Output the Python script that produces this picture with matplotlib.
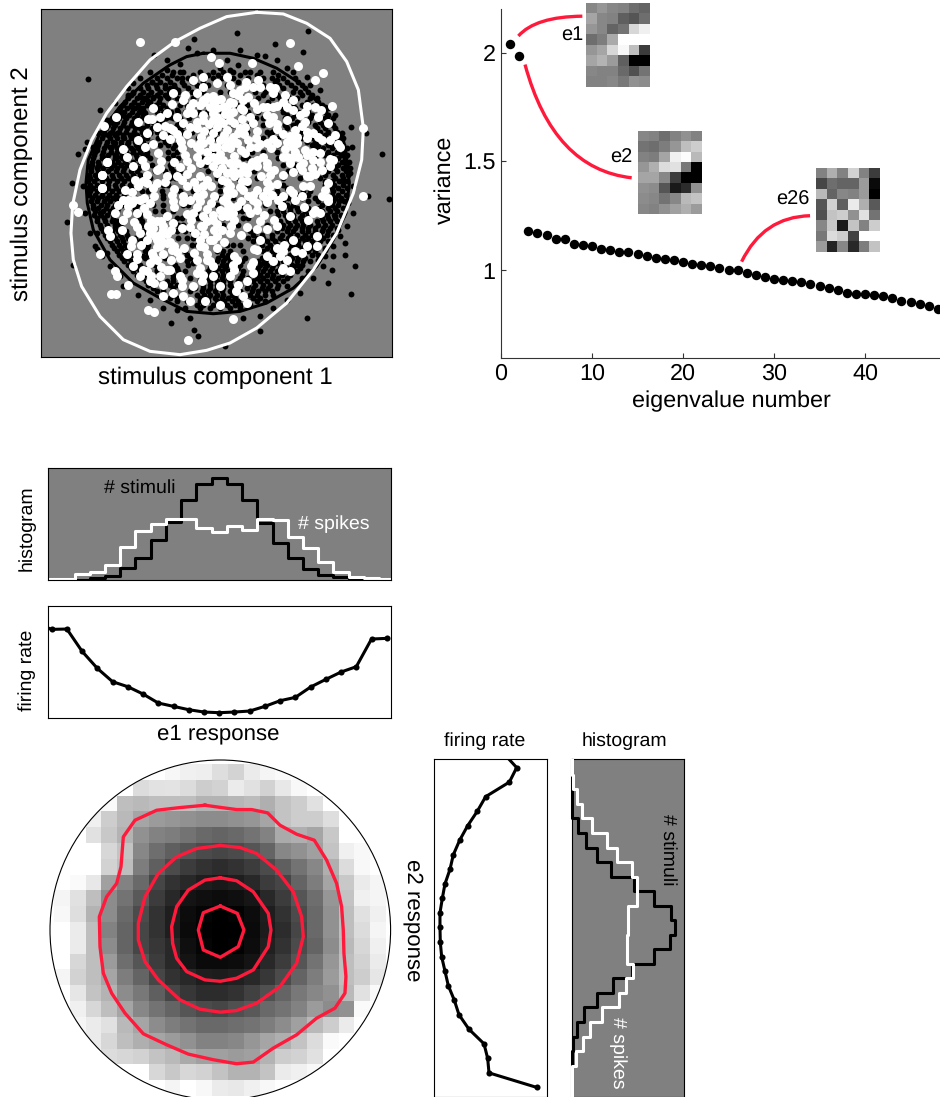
import numpy as np
import matplotlib
matplotlib.use('Agg')
import matplotlib.pyplot as plt
from matplotlib.patches import Circle, PathPatch
from matplotlib.path import Path

plt.rcParams['font.family'] = ['Liberation Sans', 'DejaVu Sans']
plt.rcParams['text.hinting'] = 'no_hinting'

W, H = 940, 1097
GRAY = '#808080'
RED = '#ff1a3c'

# scatter panel, values (arbitrary stimulus units)
black_stim = [
(263,237),(712,100),(924,92),(825,132),(910,157),(795,168),(582,117),(565,145),(462,165),(385,285),(215,550),(235,463),
(202,667),(290,747),(220,797),(1145,463),(1168,597),(1052,380),(1098,400),(1103,590),(1065,800),(1035,765),(985,850),
(1053,882),(995,810),(920,955),(780,995),(730,955),(675,1040),(595,1008),(582,990),(570,955),(513,970),(530,930),(1030,545),
(1000,770),(975,770),(1025,400),(1030,415),(300,330),(330,440),(262,425),(255,448),(290,450),(540,192),(500,210),(540,215),
(660,205),(682,180),(715,195),(690,210),(750,215),(830,240),(920,230),(455,245),(545,235),(510,265),(480,275),(385,290),
(400,280),(440,300),(395,320),(420,325),(360,335),(340,370),(375,350),(400,370),(380,385),(350,400),(370,410),(395,405),
(420,385),(440,370),(435,340),(460,290),(500,290),(535,270),(520,310),(490,340),(470,360),(510,350),(530,330),(550,370),
(345,430),(360,440),(385,430),(410,420),(430,410),(450,400),(470,390),(400,450),(420,445),(440,465),(350,470),(375,480),
(950,440),(1010,430),(1040,490),(1055,440),(1045,610),(1025,650),(1015,690),(1005,650),(1020,710),(975,750),(925,815),
(905,835),(860,860),(955,780),(360,830),(320,760),(290,700),(300,640),(305,590),(295,500),(310,470),(330,400),(400,250),
(420,290),(590,160),(470,810),(450,780),(430,770),(640,790),(600,840),(580,790),(830,790),(790,790),(760,805),(710,785),
(268,500),(250,560),(255,640),(270,700),(285,740),(305,770),(330,800),(370,860),(415,885),(450,900),(490,925),(1050,520),
(1060,560),(1060,640),(1040,680),(1035,730),(1000,740),(970,800),(940,835),(900,880),(860,900),(820,925),(780,950),(960,270),
(930,255),(975,320),(880,215),(860,205),(830,180),(770,165),(720,150),(640,150),(500,180),(450,215),(420,235),(385,265),
(345,310),(320,360),(295,400),(280,440),
]

# denser interior of the black cloud, one list of horizontal positions per row
black_row_y = [215,225,235,245,255,265,275,285,295,305,315,325,335,345,355,365,375,385,395,405,415,425,435,445,455,465,475,485,
               495,505,515,525,535,545,555,565,575,585,595,605,615,625,635,645,655,665,675,685,695,705,715,725,735,745,755,765,
               775,785,795,805,815,825,835,845,855,865,875,885,895,905,915,925]
black_row_x = [
[520,548,600,640,668,700,735,780,820],
[485,515,580,625,655,720,770,835],
[470,500,530,565,610,640,665,700,745,790,815,850,885],
[455,480,510,545,575,610,715,775,825,860,895],
[440,468,495,522,552,590,625,680,760,790,838,872,905],
[420,445,470,495,525,565,775,810,850,885,915],
[400,428,452,480,508,535,575,610,660,690,765,795,820,878,900,925],
[392,420,445,470,495,520,790,830,860,905,935],
[385,410,432,458,480,505,530,580,665,775,815,840,870,890,930,950],
[375,402,425,450,478,520,805,850,880,920,955],
[370,392,415,440,468,490,540,560,590,630,660,710,740,795,880,905,940,965],
[360,382,405,430,455,480,500,845,885,915,950,985],
[352,372,395,418,432,470,492,512,535,556,598,622,655,700,725,745,775,850,878,895,925,975],
[345,368,388,410,430,485,508,860,885,935,985,1005],
[335,358,378,402,425,476,498,520,540,568,610,650,680,742,768,790,855,875,930,975,1000],
[330,352,372,395,418,460,485,540,865,890,925,960,990],
[325,345,368,392,412,440,465,530,552,570,635,665,700,745,790,855,880,900,945,968,1000],
[318,338,360,382,405,430,455,540,860,890,950,975,1005],
[312,335,358,378,402,425,450,470,520,545,575,630,650,740,800,815,905,935,960,985,1012],
[308,325,345,368,390,412,438,505,810,895,950,975,1000,1020],
[305,330,350,372,392,415,440,475,490,595,645,660,790,835,905,940,985,1010],
[298,320,340,362,385,405,430,455,495,920,945,975,995,1025],
[295,318,342,362,382,408,428,445,480,505,525,580,655,745,835,935,955,985,1005,1030],
[290,312,332,352,372,392,415,435,520,945,970,995,1018,1040],
[285,310,332,352,378,398,420,442,505,530,640,755,790,830,945,985,1012,1032],
[282,305,325,345,365,388,408,430,520,950,975,1000,1022,1042],
[280,305,345,365,388,412,450,505,535,605,625,730,745,835,850,945,1015,1035],
[275,295,318,335,355,375,400,420,515,952,1005,1025,1048],
[275,298,320,342,362,382,405,455,510,600,615,725,770,850,885,990,1015,1038],
[272,290,310,332,352,372,395,418,512,978,1005,1028,1050],
[272,295,325,348,368,392,412,465,495,520,540,625,675,762,865,900,985,1012,1038],
[268,285,310,335,358,378,400,420,515,975,998,1025,1045],
[270,292,318,340,362,385,405,450,510,525,650,715,770,850,900,960,1005,1030],
[265,282,305,328,350,372,395,418,975,995,1018,1040],
[270,290,325,345,365,390,440,490,505,610,660,745,850,975,1002,1028],
[265,280,302,325,348,368,392,408,860,995,1015,1040],
[270,292,315,335,358,375,425,445,485,540,580,660,730,830,910,930,1000,1025],
[268,285,305,328,348,372,400,490,840,895,925,995,1015,1038],
[275,295,320,340,355,490,565,660,700,745,865,905,945,1005,1022],
[272,290,312,330,352,415,445,850,880,925,955,1000,1018,1032],
[280,302,322,345,365,410,460,490,550,565,650,700,720,795,835,860,880,965,995,1015],
[278,295,318,340,355,405,850,870,890,925,958,985,1005,1028],
[285,308,330,350,405,465,490,520,590,660,710,725,810,830,850,870,895,915,965,990,1010],
[282,302,322,340,420,835,855,880,905,925,960,980,1002,1022],
[290,312,338,420,500,530,545,595,670,730,745,860,880,900,920,965,985,1005],
[292,315,335,350,425,840,865,885,905,925,950,970,990,1012],
[300,322,345,360,430,535,550,670,715,800,850,870,890,910,930,955,975,995],
[302,325,345,365,845,865,885,905,925,945,970,990,1010],
[310,335,355,378,430,530,555,575,660,750,770,830,860,880,905,925,945,965,985],
[315,340,360,380,425,760,785,815,845,870,890,915,935,960,980,1000],
[322,345,365,385,405,430,535,560,580,745,770,790,815,840,865,885,905,925,945,970],
[330,350,370,395,420,760,780,800,825,850,870,895,915,935,960,985],
[335,358,375,445,575,590,680,700,720,785,810,830,875,895,915,935,955],
[342,362,382,440,800,820,840,865,885,905,930,950,975],
[350,368,435,515,555,650,670,690,730,790,815,835,905,925,945],
[358,378,395,445,560,665,685,705,800,825,845,870,890,910,935,955],
[365,385,435,495,570,655,675,690,735,785,800,835,855,875,895,915],
[372,392,412,450,560,650,670,690,725,775,795,820,850,870,890,910,930],
[385,405,420,465,525,565,665,680,720,780,800,820,875,890,905],
[392,412,432,530,630,655,675,695,715,775,795,815,840,860,880,900],
[400,420,470,535,555,625,645,665,685,730,770,790,810,830,890],
[412,432,478,520,630,650,670,690,725,760,780,800,820,845,870],
[425,475,520,570,625,645,665,685,720,745,770,790,815,835,860],
[438,500,520,610,630,650,670,690,715,735,760,780,800,825,850],
[445,510,530,580,610,630,650,670,690,720,745,765,790,810,835],
[460,490,520,585,610,630,650,670,695,715,740,760,785,805,830],
[470,490,515,570,605,625,645,665,690,720,755,775,795,815],
[490,520,590,612,630,650,670,695,725,750,770,795,820],
[510,530,600,625,645,665,685,705,760,780],
[530,560,600,625,650,672,695,715,745,770,795],
[590,610,640,680,705,720,750],
[555,600,630,660,690,720],
]

white_stim = [
(420,127),(525,125),(870,130),(895,198),(968,220),(945,240),(995,317),(1090,385),(1088,590),(235,638),(220,615),(312,378),
(348,352),(320,485),(305,525),(305,565),(332,882),(348,884),(445,930),(462,937),(565,1020),(698,958),(490,890),(345,815),
(350,828),(300,762),(330,710),(325,690),(370,660),(385,855),(550,888),(570,905),(615,903),(660,915),(708,875),(730,890),
(742,910),(845,810),(870,815),(632,172),(658,188),(755,190),(580,240),(650,250),(738,245),(775,240),(780,262),(810,262),
(825,265),(720,270),(735,262),(555,285),(590,280),(620,292),(640,288),(700,278),(715,285),(745,290),(855,285),(550,300),
(612,305),(640,302),(662,298),(690,305),(728,300),(762,310),(790,322),(850,305),(920,318),(962,330),(460,325),(515,312),
(570,320),(600,315),(652,325),(682,318),(722,325),(770,328),(800,320),(832,318),(860,322),(915,335),(945,322),(445,358),
(580,340),(610,345),(640,338),(675,342),(700,335),(802,345),(820,352),(900,345),(955,350),(415,366),(455,358),(550,368),
(590,365),(628,372),(660,362),(702,370),(725,358),(808,368),(832,372),(915,365),(905,378),(495,378),(510,385),(592,385),
(612,392),(652,380),(680,390),(720,385),(770,392),(830,388),(920,395),(985,368),(490,405),(530,402),(560,402),(602,410),
(672,405),(700,412),(732,402),(768,415),(850,402),(870,408),(890,412),(1005,405),(510,418),(542,425),(572,430),(610,428),
(680,422),(710,428),(745,420),(780,432),(820,418),(860,425),(890,430),(922,415),(965,420),(1015,432),(460,432),(545,445),
(600,450),(640,440),(690,445),(722,450),(770,440),(812,445),(855,448),(885,455),(915,450),(1020,440),(370,448),(475,458),
(555,465),(590,470),(620,455),(660,462),(702,468),(735,460),(862,470),(895,472),(920,465),(960,460),(322,485),(482,482),
(522,486),(562,482),(652,480),(690,490),(772,480),(802,490),(870,488),(910,490),(960,485),(990,478),(435,498),(480,505),
(540,503),(572,505),(640,498),(665,505),(700,512),(750,500),(800,502),(822,510),(905,510),(935,505),(965,510),(305,526),
(440,525),(560,522),(600,530),(650,520),(702,528),(740,520),(782,530),(810,525),(850,525),(880,518),(920,530),(945,522),
(430,545),(470,550),(495,546),(545,542),(582,548),(622,540),(682,548),(742,545),(800,548),(832,552),(870,572),(985,550),
(305,565),(415,560),(460,565),(522,568),(560,560),(592,566),(632,560),(682,570),(720,562),(770,570),(800,572),(880,580),
(910,560),(975,570),(395,578),(515,585),(610,582),(642,590),(680,590),(760,585),(790,590),(850,590),(965,590),(370,600),
(402,602),(432,596),(462,590),(520,605),(550,606),(600,605),(632,610),(680,610),(722,605),(772,610),(800,608),(835,602),
(985,595),(385,620),(432,625),(522,622),(590,622),(620,628),(680,630),(742,625),(770,630),(912,622),(945,630),(380,640),
(440,642),(562,642),(610,650),(640,645),(682,650),(750,640),(792,645),(940,640),(368,660),(402,668),(452,660),(482,665),
(572,660),(622,665),(652,672),(702,660),(780,665),(822,660),(410,682),(460,685),(490,678),(512,690),(570,682),(602,680),
(642,690),(692,680),(742,682),(772,688),(832,680),(450,700),(480,705),(500,702),(612,702),(652,708),(690,700),(722,705),
(800,688),(482,722),(510,728),(600,722),(640,722),(672,728),(952,708),(392,738),(422,735),(472,742),(522,738),(552,745),
(612,742),(652,745),(762,748),(852,735),(922,738),(950,738),(382,762),(412,762),(456,760),(490,762),(530,758),(582,760),
(622,762),(702,768),(772,752),(850,755),(885,755),(410,778),(470,782),(512,782),(540,775),(592,782),(630,785),(712,782),
(760,788),(820,785),(442,815),(482,802),(502,810),(600,805),(640,798),(702,812),(752,798),(850,805),(452,830),(510,812),
(590,820),(610,825),(700,795),(450,845),(490,855),(545,840),(605,845),(462,850),(545,860),
(610,300),(630,320),(650,300),(670,320),(690,340),(650,350),(670,370),(690,360),(640,400),(660,420),(630,420),(650,440),
(675,440),(700,430),(715,400),(735,380),(750,350),(760,370),(600,430),(590,440),(620,480),(600,490),(640,470),(670,480),
(680,520),(665,540),(710,490),(730,500),(720,520),(725,545),(730,570),(745,590),(760,600),(810,560),(815,585),(800,600),
(790,470),(770,500),(755,485),(690,560),(700,580),(670,600),(660,630),(700,640),(665,650),(710,620),(690,620),(665,690),
(640,660),(610,680),(585,700),(600,740),(630,720),(620,780),(470,665),(490,690),(465,710),(445,680),(500,730),(515,750),
(470,720),(480,740),(460,770),(450,790),(440,720),(520,670),(545,685),(500,650),(590,590),(610,560),(570,600),(580,640),
(550,590),(530,530),(500,530),(470,510),(440,550),(420,600),(450,610),(410,640),(395,610),(540,420),(570,380),(610,360),
(640,360),(580,310),(560,340),(520,390),(880,440),(880,470),(900,500),(850,470),(940,480),(930,530),(820,320),(880,330),
(760,260),(700,310),(730,330),(750,440),(800,430),(830,430),(610,260),(690,255),
(860,360),(885,390),(940,400),(955,410),(990,420),(875,430),(940,455),(990,500),(1000,480),(930,560),(885,600),(905,590),
(845,620),(870,650),(925,660),(960,640),(985,605),(880,720),(905,760),(830,745),(800,770),(860,780),(780,720),(760,820),
(740,845),(715,855),(690,830),(420,700),(395,720),(365,690),(345,640),(385,600),(355,615),(405,540),(375,570),(425,480),
(400,500),(380,470),(435,440),(415,420),(440,400),(470,380),(480,350),(500,340),(530,350),(520,280),(610,230),(680,230),
(820,280),(880,300),(540,830),(580,860),(520,880),(480,830),(430,810),(400,800),(420,830),(640,830),(660,860),(840,770),
]

black_ellipse_x = [610,690,760,830,900,960,1010,1038,1048,1038,1000,950,880,800,720,640,560,480,400,330,280,262,258,265,300,360,430,510,560,610]
black_ellipse_y = [160,160,175,205,250,315,395,470,550,640,720,800,865,910,935,942,935,895,850,780,690,610,550,480,400,320,250,195,170,160]
white_ellipse_x = [770,850,920,990,1040,1075,1090,1085,1060,1010,940,860,770,690,620,540,450,370,300,245,220,213,218,240,275,320,380,450,525,600,680,770]
white_ellipse_y = [37,42,70,115,185,270,385,480,580,700,810,910,985,1030,1052,1065,1055,1020,950,860,780,700,615,510,420,340,260,180,125,85,50,37]

# eigenvalue spectrum
eig_n = np.arange(1, 49)
eig_var = [2.04,1.985,1.182,1.171,1.161,1.145,1.142,1.121,1.116,1.113,1.098,1.092,1.086,1.083,1.077,1.067,1.058,1.054,
           1.047,1.040,1.029,1.025,1.020,1.009,1.002,1.000,0.988,0.977,0.969,0.960,0.956,0.951,0.945,0.936,0.930,0.917,
           0.910,0.898,0.893,0.890,0.885,0.881,0.875,0.861,0.855,0.847,0.836,0.821]
eig_xticks = [0, 10, 20, 30, 40]
eig_yticks = [1, 1.5, 2]
eig_yticklabels = ['1', '1.5', '2']

# quadratic connector curves: start, control, end in (eigenvalue number, variance)
curve_e1 = [(1.91,2.076),(3.78,2.165),(8.94,2.167)]
curve_e2 = [(2.64,1.945),(5.75,1.465),(14.36,1.425)]
curve_e26 = [(26.44,1.04),(28.83,1.246),(33.96,1.251)]

filt_e1 = [[135,150,135,130,110,100],[165,135,130,95,85,110],[150,135,100,115,215,240],[110,125,170,255,255,255],
           [150,165,215,248,190,60],[165,180,155,95,0,0],[135,130,130,105,80,115],[130,130,135,120,145,140]]
filt_e2 = [[135,130,110,130,145,130],[115,110,125,150,190,205],[130,125,165,240,252,185],[150,175,220,225,120,0],
           [165,165,135,60,0,0],[145,140,85,25,45,145],[140,135,115,135,185,195],[135,130,145,160,175,155]]
filt_e26 = [[130,175,130,210,130,60],[70,110,100,100,155,10],[185,100,135,130,155,0],[85,210,95,235,175,90],
            [80,195,205,145,225,115],[135,200,25,195,130,205],[120,220,205,65,255,255],[155,35,135,40,125,195]]

# e1 marginals
e1_bins = np.arange(-1, 24)
e1_stimuli = [0,0,0,0,5,12,35,65,120,172,240,288,305,288,238,170,110,65,32,15,8,2,0,0,0]
e1_spikes = [4,4,4,17,25,46,100,148,168,182,182,157,145,162,150,182,178,128,96,54,25,10,5,4,4]
rate_bins = np.arange(-1, 23)
e1_rate = [283,265,266,199,148,108,93,71,44,34,24,17,15,17,20,34,51,61,92,115,137,153,236,238]

# e2 marginals
e2_stimuli = [0,0,0,0,18,40,73,116,186,246,296,308,293,246,178,123,73,36,13,3,0,0,0]
e2_spikes = [-2,3,13,28,58,103,133,180,193,194,168,166,165,165,183,160,140,88,53,33,10,0,-2]
e2_rate_bins = np.arange(-1, 23)
e2_rate = [207,247,225,154,129,100,76,57,47,32,24,17,17,18,22,32,42,60,74,104,149,160,164,307]

# joint response map, grey level per cell (255 is white)
joint_map = [
[255,255,255,255,255,255,255,247,240,238,222,212,235,245,250,255,255,255,255,255,255],
[255,255,255,255,255,220,226,228,220,205,210,235,225,210,232,248,255,255,255,255,255],
[255,255,255,250,190,185,190,190,190,180,180,182,188,175,195,205,225,255,255,255,255],
[255,255,240,205,185,165,155,150,145,140,140,145,150,165,195,205,205,222,255,255,255],
[255,255,225,200,180,145,130,125,115,105,100,105,115,130,170,175,165,200,255,255,255],
[255,255,255,215,195,135,110,95,85,75,70,75,85,100,135,145,160,195,240,248,255],
[255,255,255,210,190,125,95,75,60,50,45,50,60,75,95,115,135,175,220,248,255],
[255,250,232,160,130,105,70,50,40,30,25,30,40,60,70,100,125,165,200,235,245],
[245,225,190,140,115,90,60,40,20,15,12,15,22,40,60,85,110,150,195,240,245],
[248,222,180,140,105,75,50,30,12,5,0,3,12,30,50,75,105,145,190,225,240],
[255,235,190,130,100,70,50,30,10,2,0,0,10,28,45,70,105,145,190,220,245],
[255,235,190,140,100,70,55,40,15,5,0,2,12,32,50,75,100,140,185,215,240],
[255,215,190,155,110,85,60,40,20,10,10,12,20,40,60,85,115,150,190,210,235],
[245,210,190,165,125,100,70,50,40,30,28,32,40,55,75,100,125,155,190,205,230],
[255,230,195,180,140,120,95,70,55,45,45,50,65,80,100,120,135,145,185,225,250],
[255,240,215,190,165,135,115,100,85,75,70,80,90,105,115,130,155,140,145,250,255],
[255,245,235,225,185,165,140,125,115,105,105,110,115,125,140,160,185,205,235,255,255],
[255,255,235,215,190,175,165,155,145,130,130,135,150,165,175,195,220,250,255,255,255],
[255,255,255,220,215,210,195,185,170,160,160,155,160,180,205,210,225,255,255,255,255],
[255,255,255,255,255,255,215,200,215,210,195,180,180,195,235,240,248,255,255,255,255],
[255,255,255,255,255,255,255,245,255,248,235,232,240,248,255,255,255,255,255,255,255],
]

contour_inner_x = [541,592,612,595,541,490,475,490,541]
contour_inner_y = [468,490,540,590,622,600,540,488,468]
contour_second_x = [541,590,640,685,693,685,640,590,541,495,440,410,398,395,410,445,495,541]
contour_second_y = [383,392,425,490,540,590,660,685,694,690,665,625,580,530,470,420,390,383]
contour_third_x = [541,600,650,710,760,785,790,770,720,650,590,541,480,420,355,315,295,295,315,355,410,470,541]
contour_third_y = [286,292,310,360,425,500,560,640,710,760,782,787,778,750,690,635,570,520,440,370,320,295,286]
contour_outer_x = [495,545,590,635,683,720,770,823,860,890,905,910,912,918,915,885,830,770,700,640,590,520,445,380,310,255,215,190,180,178,200,230,243,250,285,350,420,495]
contour_outer_y = [165,172,178,178,188,225,252,270,330,400,470,540,610,680,730,775,805,855,895,937,942,930,913,885,852,790,730,670,590,500,440,400,350,260,210,180,172,165]


def px_axes(x0, y0, x1, y1):
    return fig.add_axes([x0 / W, 1 - y1 / H, (x1 - x0) / W, (y1 - y0) / H])


def px_text(x, y, s, **kw):
    kw.setdefault('ha', 'center')
    kw.setdefault('va', 'center')
    fig.text(x / W, 1 - y / H, s, **kw)


def no_ticks(ax):
    ax.set_xticks([])
    ax.set_yticks([])


def add_curve(ax, pts):
    path = Path(pts, [Path.MOVETO, Path.CURVE3, Path.CURVE3])
    ax.add_patch(PathPatch(path, fc='none', ec=RED, lw=2.4, capstyle='butt'))


fig = plt.figure(figsize=(W / 100, H / 100), dpi=100)

# stimulus scatter
ax = px_axes(41.3, 9.3, 391.7, 357)
ax.set_facecolor(GRAY)
bx, by = np.array(black_stim).T
wx, wy = np.array(white_stim).T
rx = np.concatenate(black_row_x)
ry = np.repeat(black_row_y, [len(r) for r in black_row_x])
ax.scatter(bx, by, s=18, c='k', lw=0, zorder=2)
ax.scatter(rx, ry, s=18, c='k', lw=0, zorder=2)
ax.plot(black_ellipse_x, black_ellipse_y, color='k', lw=2.2, zorder=3)
ax.plot(white_ellipse_x, white_ellipse_y, color='w', lw=2.2, zorder=3)
ax.scatter(wx, wy, s=42, c='w', lw=0, zorder=4)
ax.set_xlim(124, 1175)
ax.set_ylim(1072, 28)
no_ticks(ax)
px_text(215, 378, 'stimulus component 1', fontsize=17.4)
px_text(22, 184, 'stimulus component 2', fontsize=17.4, rotation=90)

# eigenvalues
ax = px_axes(501, 9, 940, 357.5)
ax.plot(eig_n, eig_var, 'o', color='k', ms=6.8, mew=0, clip_on=True)
ax.set_xlim(0, 48.24)
ax.set_ylim(0.6, 2.2)
ax.spines['top'].set_visible(False)
ax.spines['right'].set_visible(False)
ax.spines['left'].set_color('#333333')
ax.spines['bottom'].set_color('#333333')
ax.set_xticks(eig_xticks)
ax.set_yticks(eig_yticks)
ax.set_yticklabels(eig_yticklabels)
ax.tick_params(direction='in', length=3.5, width=0.8, labelsize=16.8, pad=4, color='#333333')
for curve in (curve_e1, curve_e2, curve_e26):
    add_curve(ax, curve)
px_text(731, 401, 'eigenvalue number', fontsize=16.8)
px_text(445, 180, 'variance', fontsize=16.8, rotation=90)

for filt, box, name, tx, ty in [(filt_e1, (586, 3.3, 650, 86.7), 'e1', 583, 35),
                                (filt_e2, (638, 131, 702, 213.7), 'e2', 632.7, 158),
                                (filt_e26, (816, 168, 880, 251.7), 'e26', 810, 200)]:
    inset = px_axes(*box)
    inset.imshow(filt, cmap='gray', vmin=0, vmax=255, interpolation='nearest', aspect='auto')
    inset.axis('off')
    px_text(tx, ty, name, fontsize=14.4, ha='right')

# e1 histogram
ax = px_axes(47.7, 468, 391, 580)
ax.set_facecolor(GRAY)
ax.step(e1_bins, e1_stimuli, where='mid', color='k', lw=2.2)
ax.step(e1_bins, e1_spikes, where='mid', color='w', lw=2.2)
ax.set_xlim(-0.26, 22.28)
ax.set_ylim(0, 335)
no_ticks(ax)
px_text(104, 488, '# stimuli', fontsize=14, ha='left', color='k')
px_text(298, 524, '# spikes', fontsize=14, ha='left', color='w')
px_text(27, 528, 'histogram', fontsize=14, rotation=90)

# e1 firing rate
ax = px_axes(47.7, 605.7, 391, 717.7)
ax.plot(rate_bins, e1_rate, '-o', color='k', lw=2.2, ms=4.4, mew=0)
ax.set_xlim(-0.26, 22.28)
ax.set_ylim(0, 336)
no_ticks(ax)
px_text(27, 670, 'firing rate', fontsize=14, rotation=90)
px_text(218, 734, 'e1 response', fontsize=16)

# joint map on the disc
ax = px_axes(50, 760, 390.6, 1100)
disc = Circle((541, 540), 511, transform=ax.transData, fc='none', ec='k', lw=0.8, zorder=5, clip_on=False)
im = ax.imshow(joint_map, cmap='gray', vmin=0, vmax=255, interpolation='nearest',
               extent=[43.3, 1038.7, 1037.7, 42.3], zorder=1, aspect='auto')
ax.add_patch(disc)
im.set_clip_path(Circle((541, 540), 511, transform=ax.transData))
for cx, cy in [(contour_inner_x, contour_inner_y), (contour_second_x, contour_second_y),
               (contour_third_x, contour_third_y), (contour_outer_x, contour_outer_y)]:
    ax.plot(cx, cy, color=RED, lw=2.4, zorder=4)
ax.set_xlim(30, 1052)
ax.set_ylim(1051, 29)
ax.axis('off')
px_text(413, 920, 'e2 response', fontsize=16, rotation=-90)

# e2 firing rate
ax = px_axes(434.3, 759.3, 546.7, 1096.7)
ax.plot(e2_rate, e2_rate_bins, '-o', color='k', lw=2.2, ms=4.4, mew=0)
ax.set_xlim(0, 337)
ax.set_ylim(22.64, -0.57)
no_ticks(ax)
px_text(485, 741, 'firing rate', fontsize=14)

# e2 histogram
ax = px_axes(572.3, 759.3, 684.3, 1096.7)
ax.set_facecolor(GRAY)
edges = np.arange(-0.5, 23)
ax.plot(np.repeat(e2_stimuli, 2), np.repeat(edges, 2)[1:-1], color='k', lw=2.2, clip_on=False)
ax.plot(np.repeat(e2_spikes, 2), np.repeat(edges, 2)[1:-1], color='w', lw=2.2, clip_on=False, zorder=4)
ax.set_xlim(0, 336)
ax.set_ylim(22.64, -0.57)
no_ticks(ax)
px_text(667.7, 850, '# stimuli', fontsize=14, rotation=-90, color='k')
px_text(618, 1053, '# spikes', fontsize=14, rotation=-90, color='w')
px_text(624, 741, 'histogram', fontsize=14)

fig.savefig('out.png', dpi=100)
